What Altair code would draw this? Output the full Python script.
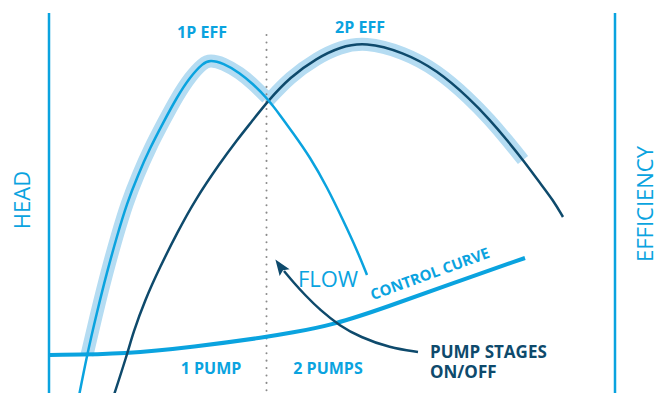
import altair as alt
import pandas as pd

# ---- data (pixel-like schematic coordinates) ----
p1_x = [78, 87, 97, 107, 117, 127, 138, 150, 163, 177, 190, 203, 210, 223, 240, 253, 267, 280, 293, 310, 327, 343, 357, 367]
p1_y = [401, 355, 312, 272, 236, 203, 175, 148, 123, 97, 77, 63, 60, 63, 73, 84, 98, 115, 133, 157, 187, 220, 250, 275]
p1_band = [87, 267]

p2_x = [112, 127, 133, 145, 160, 177, 195, 220, 237, 253, 267, 290, 317, 340, 365, 403, 437, 470, 490, 507, 523, 540, 553, 563]
p2_y = [401, 355, 333, 300, 267, 233, 200, 163, 140, 120, 102, 77, 58, 47, 42, 52, 70, 99, 120, 140, 160, 183, 200, 217]
p2_band = [267, 523]

ctrl_x = [50, 127, 193, 267, 290, 333, 387, 453, 525]
ctrl_y = [355, 354, 347, 337, 333, 325, 307, 283, 258]

arrow_x = [418, 390, 360, 340, 320, 305, 294, 284]
arrow_y = [352, 348, 337, 326, 310, 295, 283, 271]
arrow_tip = [280, 266]

axis_x = [49, 615]
axis_top = [13, 13]
split_x = [266.5]
split_top = [35]
bottom = 401

blue_labels = ["1P EFF", "2P EFF", "1 PUMP", "2 PUMPS"]
blue_lx = [202, 360, 211, 328]
blue_ly = [33, 28, 369, 369]

axis_titles = ["HEAD", "EFFICIENCY"]
axis_tx = [23, 646]
axis_ty = [200, 204]

flow_label = ["FLOW"]
flow_xy = [328, 280]

ctrl_label = ["CONTROL CURVE"]
ctrl_lxy = [430, 274]

stage_lines = ["PUMP STAGES", "ON/OFF"]
stage_xy = [430, 345]

BLUE = "#0aa3df"
NAVY = "#0e4a6c"
PALE = "#b5dcf2"
FONT = "Open Sans"
CURVE = "basis"

xs = alt.Scale(domain=[8, 659], nice=False, zero=False)
ys = alt.Scale(domain=[8, 393], reverse=True, nice=False, zero=False)
X = alt.X("x:Q", scale=xs, axis=None)
Y = alt.Y("y:Q", scale=ys, axis=None)

p1 = pd.DataFrame({"x": p1_x, "y": p1_y})
p2 = pd.DataFrame({"x": p2_x, "y": p2_y})
p1b = p1[(p1.x >= p1_band[0]) & (p1.x <= p1_band[1])]
p2b = p2[(p2.x >= p2_band[0]) & (p2.x <= p2_band[1])]
ctrl = pd.DataFrame({"x": ctrl_x, "y": ctrl_y})
arr = pd.DataFrame({"x": arrow_x, "y": arrow_y})

band1 = alt.Chart(p1b).mark_line(color=PALE, strokeWidth=13, interpolate=CURVE, strokeCap="butt").encode(X, Y)
band2 = alt.Chart(p2b).mark_line(color=PALE, strokeWidth=13, interpolate=CURVE, strokeCap="butt").encode(X, Y)

axes = alt.Chart(pd.DataFrame({"x": axis_x, "y": axis_top, "y2": [bottom, bottom]})).mark_rule(
    color=BLUE, strokeWidth=2.5).encode(X, Y, y2="y2:Q")
split = alt.Chart(pd.DataFrame({"x": split_x, "y": split_top, "y2": [bottom]})).mark_rule(
    color="#8a8a8a", strokeWidth=2, strokeDash=[0.1, 7.3], strokeCap="round").encode(X, Y, y2="y2:Q")

ctrl_line = alt.Chart(ctrl).mark_line(color=BLUE, strokeWidth=4, interpolate=CURVE).encode(X, Y)
line2 = alt.Chart(p2).mark_line(color=NAVY, strokeWidth=2.5, interpolate=CURVE).encode(X, Y)
line1 = alt.Chart(p1).mark_line(color=BLUE, strokeWidth=2.5, interpolate=CURVE).encode(X, Y)
arrow_line = alt.Chart(arr).mark_line(color=NAVY, strokeWidth=2.5, interpolate=CURVE).encode(X, Y)
arrow_head = alt.Chart(pd.DataFrame({"x": [arrow_tip[0]], "y": [arrow_tip[1]]})).mark_point(
    shape="M0,-1L0.75,1L0,0.65L-0.75,1Z", filled=True, opacity=1, color=NAVY, size=260, angle=325, strokeWidth=0
).encode(X, Y)

blue_text = alt.Chart(pd.DataFrame({"x": blue_lx, "y": blue_ly, "t": blue_labels})).mark_text(
    font=FONT, fontSize=16, fontWeight="bold", color=BLUE, baseline="middle", align="center").encode(X, Y, text="t:N")
title_text = alt.Chart(pd.DataFrame({"x": axis_tx, "y": axis_ty, "t": axis_titles})).mark_text(
    font=FONT, fontSize=22, fontWeight="normal", color=BLUE, baseline="middle", align="center", angle=270
).encode(X, Y, text="t:N")
flow_text = alt.Chart(pd.DataFrame({"x": [flow_xy[0]], "y": [flow_xy[1]], "t": flow_label})).mark_text(
    font=FONT, fontSize=22, fontWeight="normal", color=BLUE, baseline="middle", align="center").encode(X, Y, text="t:N")
ctrl_text = alt.Chart(pd.DataFrame({"x": [ctrl_lxy[0]], "y": [ctrl_lxy[1]], "t": ctrl_label})).mark_text(
    font=FONT, fontSize=15, fontWeight="bold", color=BLUE, baseline="middle", align="center", angle=340
).encode(X, Y, text="t:N")
stage_text = alt.Chart(pd.DataFrame({"x": [stage_xy[0]], "y": [stage_xy[1]], "t": ["\n".join(stage_lines)]})).mark_text(
    font=FONT, fontSize=17, fontWeight="bold", color=NAVY, baseline="top", align="left",
    lineBreak="\n", lineHeight=20).encode(X, Y, text="t:N")

chart = alt.layer(
    band1, band2, axes, split, ctrl_line, line2, line1, arrow_line, arrow_head,
    blue_text, title_text, flow_text, ctrl_text, stage_text
).properties(
    width=651, height=385,
    autosize=alt.AutoSizeParams(type="none"),
    padding=0,
    background="white",
).configure_view(stroke=None)

chart.save("out.html", embed_options={"renderer": "svg", "actions": False})
